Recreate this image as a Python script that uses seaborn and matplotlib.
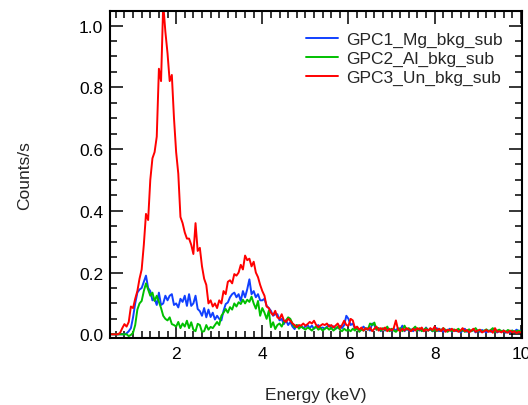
import numpy as np
import pandas as pd
import matplotlib
matplotlib.use("Agg")
import matplotlib.pyplot as plt
from matplotlib.ticker import MultipleLocator, FormatStrFormatter
import seaborn as sns

energy = [
    0.50, 0.55, 0.60, 0.65, 0.70, 0.75, 0.80, 0.85, 0.90, 0.95,
    1.00, 1.05, 1.10, 1.15, 1.20, 1.25, 1.30, 1.35, 1.40, 1.45,
    1.50, 1.55, 1.60, 1.65, 1.70, 1.75, 1.80, 1.85, 1.90, 1.95,
    2.00, 2.05, 2.10, 2.15, 2.20, 2.25, 2.30, 2.35, 2.40, 2.45,
    2.50, 2.55, 2.60, 2.65, 2.70, 2.75, 2.80, 2.85, 2.90, 2.95,
    3.00, 3.05, 3.10, 3.15, 3.20, 3.25, 3.30, 3.35, 3.40, 3.45,
    3.50, 3.55, 3.60, 3.65, 3.70, 3.75, 3.80, 3.85, 3.90, 3.95,
    4.00, 4.05, 4.10, 4.15, 4.20, 4.25, 4.30, 4.35, 4.40, 4.45,
    4.50, 4.55, 4.60, 4.65, 4.70, 4.75, 4.80, 4.85, 4.90, 4.95,
    5.00, 5.05, 5.10, 5.15, 5.20, 5.25, 5.30, 5.35, 5.40, 5.45,
    5.50, 5.55, 5.60, 5.65, 5.70, 5.75, 5.80, 5.85, 5.90, 5.95,
    6.00, 6.05, 6.10, 6.15, 6.20, 6.25, 6.30, 6.35, 6.40, 6.45,
    6.50, 6.55, 6.60, 6.65, 6.70, 6.75, 6.80, 6.85, 6.90, 6.95,
    7.00, 7.05, 7.10, 7.15, 7.20, 7.25, 7.30, 7.35, 7.40, 7.45,
    7.50, 7.55, 7.60, 7.65, 7.70, 7.75, 7.80, 7.85, 7.90, 7.95,
    8.00, 8.05, 8.10, 8.15, 8.20, 8.25, 8.30, 8.35, 8.40, 8.45,
    8.50, 8.55, 8.60, 8.65, 8.70, 8.75, 8.80, 8.85, 8.90, 8.95,
    9.00, 9.05, 9.10, 9.15, 9.20, 9.25, 9.30, 9.35, 9.40, 9.45,
    9.50, 9.55, 9.60, 9.65, 9.70, 9.75, 9.80, 9.85, 9.90, 9.95,
    10.00,
]

gpc1_mg = [
    0, 0, 0, 0, 0, 0, 0, 0.003, 0.01, 0.02,
    0.055, 0.10, 0.135, 0.145, 0.15, 0.17, 0.19, 0.15, 0.14, 0.11,
    0.115, 0.095, 0.135, 0.095, 0.10, 0.125, 0.11, 0.125, 0.13, 0.095,
    0.10, 0.087, 0.115, 0.105, 0.125, 0.092, 0.13, 0.092, 0.10, 0.125,
    0.082, 0.075, 0.06, 0.085, 0.055, 0.08, 0.056, 0.07, 0.048, 0.06,
    0.05, 0.045, 0.076, 0.098, 0.103, 0.12, 0.13, 0.135, 0.12, 0.13,
    0.108, 0.14, 0.12, 0.146, 0.178, 0.13, 0.14, 0.12, 0.13, 0.11,
    0.11, 0.115, 0.092, 0.085, 0.076, 0.06, 0.065, 0.065, 0.045, 0.05,
    0.033, 0.045, 0.03, 0.04, 0.025, 0.017, 0.03, 0.022, 0.028, 0.02,
    0.025, 0.03, 0.02, 0.028, 0.018, 0.025, 0.03, 0.02, 0.022, 0.018,
    0.025, 0.03, 0.02, 0.026, 0.018, 0.022, 0.028, 0.02, 0.03, 0.06,
    0.05, 0.03, 0.035, 0.018, 0.02, 0.012, 0.018, 0.025, 0.015, 0.02,
    0.012, 0.035, 0.03, 0.015, 0.02, 0.01, 0.018, 0.012, 0.02, 0.015,
    0.01, 0.018, 0.012, 0.02, 0.015, 0.028, 0.01, 0.018, 0.012, 0.016,
    0.01, 0.02, 0.015, 0.012, 0.018, 0.01, 0.022, 0.012, 0.016, 0.01,
    0.014, 0.02, 0.01, 0.016, 0.008, 0.015, 0.012, 0.018, 0.008, 0.014,
    0.01, 0.016, 0.006, 0.012, 0.018, 0.008, 0.012, 0.01, 0.015, 0.006,
    0.012, 0.008, 0.014, 0.01, 0.006, 0.012, 0.008, 0.014, 0.01, 0.006,
    0.01, 0.008, 0.012, 0.005, 0.01, 0.006, 0.012, 0.008, 0.015, 0.01,
    0.012,
]

gpc2_al = [
    0, 0, 0, 0, 0, 0, 0, 0, -0.006, -0.002,
    0.005, 0.03, 0.08, 0.10, 0.108, 0.14, 0.165, 0.145, 0.125, 0.135,
    0.108, 0.125, 0.105, 0.085, 0.06, 0.05, 0.045, 0.055, 0.033, 0.03,
    0.025, 0.04, 0.02, 0.035, 0.025, 0.044, 0.02, 0.039, 0.015, 0.01,
    0.034, 0.03, 0.008, 0.01, 0.03, 0.015, 0.024, 0.02, 0.03, 0.04,
    0.03, 0.06, 0.07, 0.082, 0.07, 0.088, 0.08, 0.10, 0.09, 0.104,
    0.098, 0.112, 0.10, 0.112, 0.105, 0.122, 0.10, 0.083, 0.108, 0.06,
    0.085, 0.07, 0.05, 0.076, 0.023, 0.039, 0.017, 0.03, 0.035, 0.025,
    0.04, 0.045, 0.055, 0.05, 0.035, 0.023, 0.03, 0.018, 0.025, 0.02,
    0.015, 0.022, 0.018, 0.012, 0.02, 0.025, 0.015, 0.02, 0.012, 0.018,
    0.022, 0.015, 0.02, 0.012, 0.018, 0.025, 0.015, 0.01, 0.018, 0.012,
    0.015, 0.01, 0.018, 0.012, 0.02, 0.008, 0.015, 0.012, 0.02, 0.015,
    0.035, 0.03, 0.038, 0.015, 0.02, 0.012, 0.02, 0.014, 0.025, 0.01,
    0.018, 0.012, 0.008, 0.015, 0.02, 0.01, 0.028, 0.015, 0.02, 0.012,
    0.018, 0.025, 0.012, 0.02, 0.01, 0.015, 0.02, 0.012, 0.018, 0.01,
    0.015, 0.01, 0.018, 0.012, 0.02, 0.014, 0.008, 0.015, 0.01, 0.016,
    0.012, 0.018, 0.01, 0.015, 0.008, 0.012, 0.016, 0.01, 0.014, 0.02,
    0.01, 0.014, 0.008, 0.012, 0.016, 0.01, 0.014, 0.02, 0.008, 0.012,
    0.015, 0.01, 0.012, 0.008, 0.014, 0.01, 0.012, 0.008, 0.01, 0.012,
    0.01,
]

gpc3_un = [
    0, 0, 0, 0, 0.005, 0.02, 0.033, 0.025, 0.04, 0.09,
    0.085, 0.115, 0.14, 0.18, 0.21, 0.29, 0.39, 0.37, 0.50, 0.57,
    0.59, 0.64, 0.86, 0.82, 1.07, 0.98, 0.91, 0.82, 0.84, 0.70,
    0.59, 0.52, 0.38, 0.36, 0.33, 0.31, 0.31, 0.29, 0.26, 0.36,
    0.27, 0.28, 0.22, 0.18, 0.16, 0.10, 0.11, 0.09, 0.10, 0.085,
    0.11, 0.10, 0.14, 0.13, 0.17, 0.175, 0.165, 0.195, 0.19, 0.20,
    0.225, 0.21, 0.255, 0.24, 0.245, 0.22, 0.235, 0.20, 0.185, 0.16,
    0.14, 0.125, 0.09, 0.085, 0.07, 0.062, 0.076, 0.055, 0.05, 0.065,
    0.045, 0.04, 0.05, 0.044, 0.035, 0.03, 0.023, 0.03, 0.028, 0.035,
    0.028, 0.033, 0.04, 0.035, 0.044, 0.03, 0.023, 0.028, 0.033, 0.03,
    0.035, 0.025, 0.03, 0.022, 0.028, 0.035, 0.02, 0.03, 0.044, 0.03,
    0.028, 0.05, 0.045, 0.02, 0.025, 0.015, 0.022, 0.012, 0.02, 0.015,
    0.022, 0.01, 0.018, 0.025, 0.012, 0.02, 0.015, 0.022, 0.01, 0.018,
    0.012, 0.02, 0.045, 0.015, 0.01, 0.018, 0.012, 0.02, 0.015, 0.01,
    0.018, 0.012, 0.02, 0.015, 0.022, 0.01, 0.016, 0.012, 0.02, 0.014,
    0.025, 0.012, 0.018, 0.01, 0.02, 0.008, 0.015, 0.012, 0.018, 0.01,
    0.015, 0.008, 0.012, 0.02, 0.01, 0.014, 0.006, 0.012, 0.018, 0.008,
    0.012, 0.015, 0.006, 0.01, 0.014, 0.008, 0.012, 0.005, 0.02, 0.008,
    0.01, 0.006, 0.012, 0.008, 0.005, 0.012, 0.006, 0.01, 0.004, 0.008,
    0.006,
]

series_names = ["GPC1_Mg_bkg_sub", "GPC2_Al_bkg_sub", "GPC3_Un_bkg_sub"]
series_colors = ["#1040ff", "#00c000", "#ff0000"]
y_ticks = [0.0, 0.2, 0.4, 0.6, 0.8, 1.0]
x_ticks = [2, 4, 6, 8, 10]

df = pd.concat([
    pd.DataFrame({"Energy": energy, "Counts": vals, "Series": name})
    for name, vals in zip(series_names, [gpc1_mg, gpc2_al, gpc3_un])
], ignore_index=True)

sns.set_style("ticks")
plt.rcParams["font.family"] = ["Liberation Sans", "DejaVu Sans"]
plt.rcParams["font.size"] = 12.5

fig = plt.figure(figsize=(5.28, 4.06), dpi=100)
ax = fig.add_axes([110 / 528, 1 - 338.7 / 406, (521.7 - 110) / 528, (338.7 - 11.7) / 406])

sns.lineplot(data=df, x="Energy", y="Counts", hue="Series",
             palette=dict(zip(series_names, series_colors)),
             hue_order=series_names, linewidth=1.4, ax=ax, sort=False,
             estimator=None)

ax.set_xlim(0.465, 10.02)
ax.set_ylim(-0.011, 1.048)
ax.set_xticks(x_ticks)
ax.set_yticks(y_ticks)
ax.xaxis.set_minor_locator(MultipleLocator(0.2))
ax.yaxis.set_minor_locator(MultipleLocator(0.05))
ax.yaxis.set_major_formatter(FormatStrFormatter("%.1f"))
ax.tick_params(which="both", direction="in", top=True, right=True,
               width=1.1, colors="black", labelsize=12.5)
ax.tick_params(which="major", length=9.5)
ax.tick_params(which="minor", length=5)
ax.tick_params(axis="x", pad=6)
ax.tick_params(axis="y", pad=5)
for s in ax.spines.values():
    s.set_linewidth(1.5)
    s.set_color("black")

ax.set_xlabel("Energy (keV)", fontsize=12.5)
ax.set_ylabel("Counts/s", fontsize=12.5)
ax.xaxis.set_label_coords(0.5, -0.15)
ax.yaxis.set_label_coords(-0.188, 0.5)

leg = ax.legend(loc="upper right", bbox_to_anchor=(0.970, 0.957), frameon=False,
                borderaxespad=0, handlelength=1.85, handletextpad=0.45,
                labelspacing=0.22, fontsize=12.5)
for line in leg.get_lines():
    line.set_linewidth(1.4)

fig.savefig("out.png", dpi=100)
